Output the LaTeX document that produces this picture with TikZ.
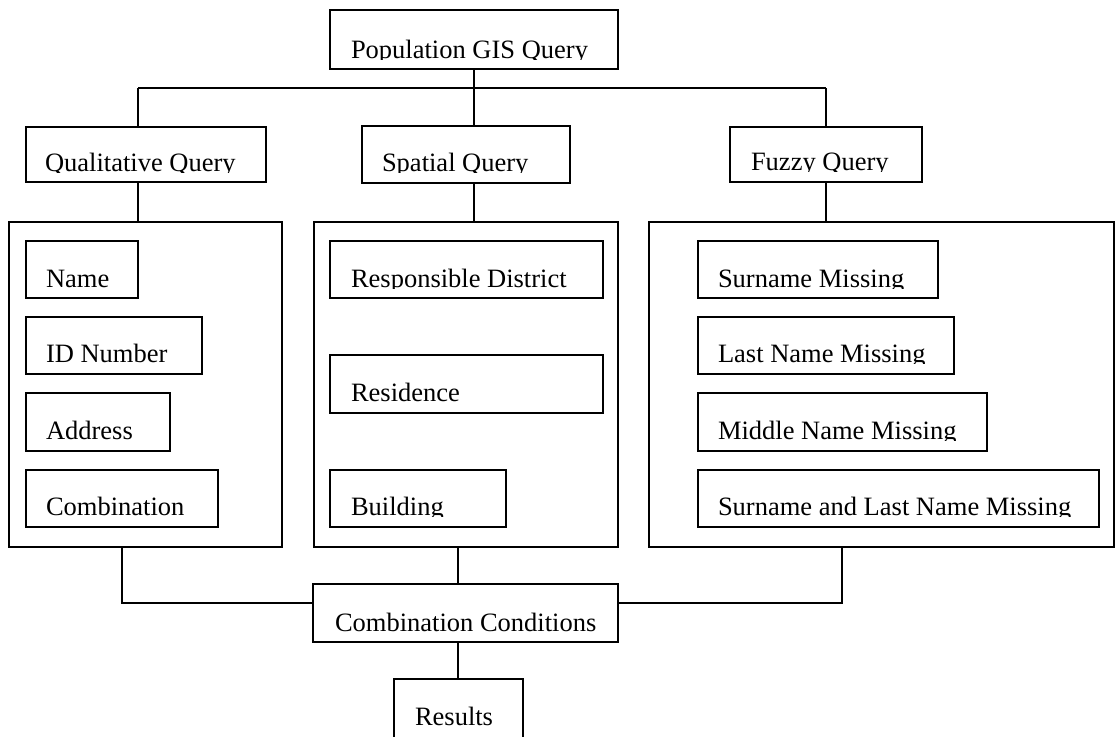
\documentclass[tikz,border=0pt]{standalone}
\usepackage{fontspec}
\setmainfont{Liberation Serif}
\usetikzlibrary{calc}

% Box with its label; the label is cut off just below its baseline.
% #1 name, #2-#5 corners (x1,y1,x2,y2), #6 label x, #7 baseline y, #8 label
\newcommand\qbox[8]{%
  \node[boxst, minimum width={#4-#2}, minimum height={#5-#3}, anchor=north west] (#1) at (#2,#3) {};
  \begin{scope}
    \clip (#2,#3) rectangle (#4,#7+1.5);
    \node[lbl] at (#6,#7) {#8};
  \end{scope}}

\begin{document}
\begin{tikzpicture}[x=1pt, y=-1pt,
  boxst/.style={draw, line width=1.7pt, rectangle, inner sep=0pt, outer sep=0pt},
  lbl/.style={anchor=base west, inner sep=0pt, outer sep=0pt, font=\fontsize{26.5}{30}\selectfont},
  link/.style={line width=1.7pt}]
\useasboundingbox (0,0) rectangle (1115,736);

% top level
\qbox{top}{330}{10}{618}{69}{351}{58}{Population GIS Query}
\qbox{qual}{26}{127}{266}{182}{45}{171}{Qualitative Query}
\qbox{spatial}{362}{126}{570}{183}{382}{171}{Spatial Query}
\qbox{fuzzy}{730}{127}{922}{182}{751}{170}{Fuzzy Query}

% group frames
\node[boxst, minimum width=273, minimum height=325, anchor=north west] (lbig) at (9,222) {};
\node[boxst, minimum width=304, minimum height=325, anchor=north west] (mbig) at (314,222) {};
\node[boxst, minimum width=465, minimum height=325, anchor=north west] (rbig) at (649,222) {};

% qualitative items
\qbox{name}{26}{241}{138}{298}{46}{287}{Name}
\qbox{idnum}{26}{317}{202}{374}{46}{362}{ID Number}
\qbox{addr}{26}{393}{170}{451}{46}{439}{Address}
\qbox{combi}{26}{470}{218}{527}{46}{515}{Combination}

% spatial items
\qbox{district}{330}{241}{603}{298}{351}{287}{Responsible District}
\qbox{resid}{330}{355}{603}{413}{351}{401}{Residence}
\qbox{build}{330}{470}{506}{527}{351}{515}{Building}

% fuzzy items
\qbox{surname}{698}{241}{938}{298}{718}{287}{Surname Missing}
\qbox{lastname}{698}{317}{954}{374}{718}{362}{Last Name Missing}
\qbox{middlename}{698}{393}{987}{451}{718}{439}{Middle Name Missing}
\qbox{bothnames}{698}{470}{1099}{527}{718}{515}{Surname and Last Name Missing}

% combination and results
\qbox{comb}{313}{584}{618}{642}{335}{631}{Combination Conditions}
\qbox{res}{394}{679}{523}{750}{415}{725}{Results}

% junction points
\coordinate (hub) at (474,88);
\coordinate (lq) at (138,88);
\coordinate (rq) at (826,88);
\coordinate (lj) at (122,603);
\coordinate (rj) at (842,603);
\coordinate (cj) at (458,603);

% connectors
\draw[link] (lq) -- (rq);
\draw[link] (top.south) -- (hub) -- (hub |- spatial.north);
\draw[link] (lq) -- (lq |- qual.north);
\draw[link] (rq) -- (rq |- fuzzy.north);
\draw[link] (lq |- qual.south) -- (lq |- lbig.north);
\draw[link] (hub |- spatial.south) -- (hub |- mbig.north);
\draw[link] (rq |- fuzzy.south) -- (rq |- rbig.north);
\draw[link] (lj |- lbig.south) -- (lj) -- (lj -| comb.west);
\draw[link] (rj |- rbig.south) -- (rj) -- (rj -| comb.east);
\draw[link] (cj |- mbig.south) -- (cj |- comb.north);
\draw[link] (cj |- comb.south) -- (cj |- res.north);
\end{tikzpicture}
\end{document}
